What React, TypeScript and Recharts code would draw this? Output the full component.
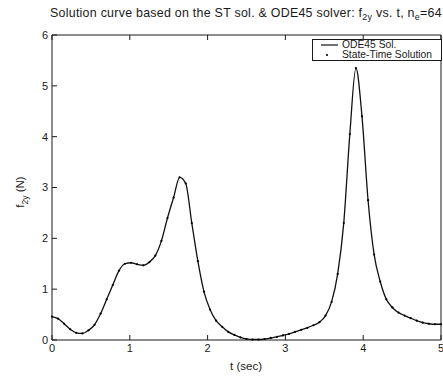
import React from "react";
import { ComposedChart, Line, XAxis, YAxis } from "recharts";

// time nodes of the state-time mesh (n_e = 64 elements on 0..5 s)
const timeNodes = [
  0, 0.078125, 0.15625, 0.234375, 0.3125, 0.390625, 0.46875, 0.546875, 0.625,
  0.703125, 0.78125, 0.859375, 0.9375, 1.015625, 1.09375, 1.171875, 1.25,
  1.328125, 1.40625, 1.484375, 1.5625, 1.640625, 1.71875, 1.796875, 1.875,
  1.953125, 2.03125, 2.109375, 2.1875, 2.265625, 2.34375, 2.421875, 2.5,
  2.578125, 2.65625, 2.734375, 2.8125, 2.890625, 2.96875, 3.046875, 3.125,
  3.203125, 3.28125, 3.359375, 3.4375, 3.515625, 3.59375, 3.671875, 3.75,
  3.828125, 3.90625, 3.984375, 4.0625, 4.140625, 4.21875, 4.296875, 4.375,
  4.453125, 4.53125, 4.609375, 4.6875, 4.765625, 4.84375, 4.921875, 5,
];

// f_2y (N) at each node
const f2y = [
  0.46, 0.42, 0.32, 0.21, 0.14, 0.13, 0.19, 0.3, 0.52, 0.8, 1.08, 1.36, 1.5,
  1.52, 1.49, 1.47, 1.53, 1.66, 1.95, 2.4, 2.8, 3.2, 3.08, 2.3, 1.55, 0.95,
  0.6, 0.38, 0.26, 0.16, 0.1, 0.05, 0.02, 0.01, 0.01, 0.02, 0.04, 0.06, 0.09,
  0.12, 0.16, 0.2, 0.24, 0.29, 0.35, 0.48, 0.75, 1.3, 2.3, 4.05, 5.35, 4.4,
  2.75, 1.68, 1.15, 0.8, 0.64, 0.54, 0.48, 0.43, 0.38, 0.34, 0.32, 0.31, 0.31,
];

const xTicks = [0, 1, 2, 3, 4, 5];
const yTicks = [0, 1, 2, 3, 4, 5, 6];

const data = timeNodes.map((t, i) => ({ t, ode45: f2y[i], st: f2y[i] }));

const FONT = "'Liberation Sans', Arial, Helvetica, sans-serif";
const INK = "#1a1a1a";
const TICK_LEN = 5;
const GAP = 4;

const BottomTick = (props: any) => {
  const { x, y, payload } = props;
  const axisY = y - GAP;
  return (
    <g>
      <line x1={x} x2={x} y1={axisY} y2={axisY - TICK_LEN} stroke={INK} />
      <text x={x} y={y} dy="0.75em" textAnchor="middle" fontSize={11} fontFamily={FONT} fill={INK}>
        {payload.value}
      </text>
    </g>
  );
};

const LeftTick = (props: any) => {
  const { x, y, payload } = props;
  const axisX = x + GAP;
  return (
    <g>
      <line x1={axisX} x2={axisX + TICK_LEN} y1={y} y2={y} stroke={INK} />
      <text x={x} y={y} dy="0.36em" textAnchor="end" fontSize={11} fontFamily={FONT} fill={INK}>
        {payload.value}
      </text>
    </g>
  );
};

const TopTick = (props: any) => {
  const { x, y } = props;
  return <line x1={x} x2={x} y1={y} y2={y + TICK_LEN} stroke={INK} />;
};

const RightTick = (props: any) => {
  const { x, y } = props;
  return <line x1={x} x2={x - TICK_LEN} y1={y} y2={y} stroke={INK} />;
};

export default function App() {
  return (
    <div style={{ position: "absolute", left: 0, top: 0, width: 443, height: 381, background: "#fff", fontFamily: FONT, color: INK, overflow: "hidden" }}>
      <div style={{ position: "absolute", left: 50, top: 6, fontSize: 12.4, letterSpacing: 0.27, whiteSpace: "nowrap" }}>
        Solution curve based on the ST sol. &amp; ODE45 solver: f<sub style={{ fontSize: 9 }}>2y</sub> vs. t, n
        <sub style={{ fontSize: 9 }}>e</sub>=64
      </div>

      <ComposedChart
        width={443}
        height={381}
        data={data}
        margin={{ top: 34, right: 1, bottom: 11, left: 22 }}
      >
        <XAxis
          dataKey="t"
          type="number"
          domain={[0, 5]}
          ticks={xTicks}
          interval={0}
          height={30}
          tickSize={0}
          tickMargin={GAP}
          stroke={INK}
          tick={<BottomTick />}
        />
        <XAxis
          xAxisId="top"
          dataKey="t"
          type="number"
          orientation="top"
          domain={[0, 5]}
          ticks={xTicks}
          interval={0}
          height={1}
          tickSize={0}
          tickMargin={0}
          stroke={INK}
          tick={<TopTick />}
        />
        <YAxis
          type="number"
          domain={[0, 6]}
          ticks={yTicks}
          interval={0}
          width={30}
          tickSize={0}
          tickMargin={GAP}
          stroke={INK}
          tick={<LeftTick />}
        />
        <YAxis
          yAxisId="right"
          orientation="right"
          type="number"
          domain={[0, 6]}
          ticks={yTicks}
          interval={0}
          width={1}
          tickSize={0}
          tickMargin={0}
          stroke={INK}
          tick={<RightTick />}
        />
        <Line
          dataKey="ode45"
          type="monotone"
          stroke="#111"
          strokeWidth={1.3}
          dot={false}
          isAnimationActive={false}
        />
        <Line
          dataKey="st"
          stroke="none"
          dot={{ r: 1.1, fill: "#000", stroke: "none" }}
          activeDot={false}
          isAnimationActive={false}
        />
      </ComposedChart>

      <div style={{ position: "absolute", left: 22, top: 192, transform: "translate(-50%, -50%) rotate(-90deg)", fontSize: 11.5, whiteSpace: "nowrap" }}>
        f<sub style={{ fontSize: 8.5 }}>2y</sub> (N)
      </div>
      <div style={{ position: "absolute", left: 246, top: 360, transform: "translateX(-50%)", fontSize: 11.5, whiteSpace: "nowrap" }}>
        t (sec)
      </div>

      <div style={{ position: "absolute", left: 312, top: 39, width: 128, height: 20, border: `1px solid ${INK}`, background: "#fff", fontSize: 10.3, lineHeight: "10px" }}>
        <div style={{ position: "absolute", left: 8, top: 0, height: 10, display: "flex", alignItems: "center" }}>
          <svg width={17} height={10}>
            <line x1={0} x2={17} y1={5} y2={5} stroke="#111" strokeWidth={1.2} />
          </svg>
          <span style={{ marginLeft: 4 }}>ODE45 Sol.</span>
        </div>
        <div style={{ position: "absolute", left: 8, top: 10, height: 10, display: "flex", alignItems: "center" }}>
          <svg width={17} height={10}>
            <circle cx={6} cy={5} r={1.1} fill="#000" />
          </svg>
          <span style={{ marginLeft: 4 }}>State-Time Solution</span>
        </div>
      </div>
    </div>
  );
}
